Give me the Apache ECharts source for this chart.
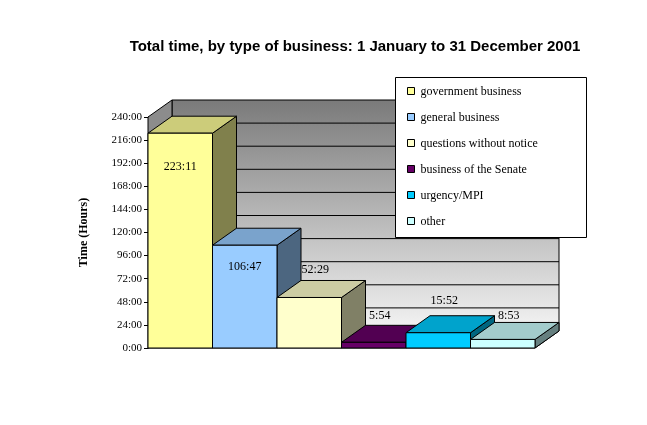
<!DOCTYPE html>
<html><head><meta charset="utf-8">
<script src="https://cdn.jsdelivr.net/npm/echarts@6/dist/echarts.min.js"></script>
<style>html,body{margin:0;padding:0;background:#fff}#c{width:647px;height:425px}</style>
</head><body><div id="c"></div>
<script>
const categories = ['government business','general business','questions without notice','business of the Senate','urgency/MPI','other'];
const valueLabels = ['223:11','106:47','52:29','5:54','15:52','8:53'];
const values = [223.18, 106.78, 52.48, 5.9, 15.87, 8.88];
const tickLabels = ['0:00','24:00','48:00','72:00','96:00','120:00','144:00','168:00','192:00','216:00','240:00'];
const frontColors = ['#FFFF99','#99CCFF','#FFFFCC','#660066','#00CCFF','#CCFFFF'];
const topColors = ['#CCCC7A','#7AA3CC','#CCCCA3','#520052','#00A3CC','#A3CCCC'];
const sideColors = ['#80804C','#4C6680','#808066','#330033','#006680','#668080'];
const labelDy = [34, 22, -28, -26, -32, -24];
const DX = 24, DY = -17;
const chart = echarts.init(document.getElementById('c'));
function band(api, i){ const c = api.coord([i,0]); const w = api.size([1,0])[0]; return [c[0]-w/2, c[0]+w/2]; }
const wall = {
  type:'custom', data:[[0]], silent:true, z:1,
  renderItem(params, api){
    const x0 = band(api,0)[0], x1 = band(api,categories.length-1)[1];
    const y0 = api.coord([0,0])[1], yt = api.coord([0,240])[1];
    const ch = [];
    ch.push({type:'polygon',shape:{points:[[x0+DX,yt+DY],[x1+DX,yt+DY],[x1+DX,y0+DY],[x0+DX,y0+DY]]},
      style:{fill:new echarts.graphic.LinearGradient(0,0,0,1,[{offset:0,color:'#7a7a7a'},{offset:1,color:'#f4f4f4'}]),stroke:'#000',lineWidth:1}});
    ch.push({type:'polygon',shape:{points:[[x0,y0],[x0+DX,y0+DY],[x0+DX,yt+DY],[x0,yt]]},style:{fill:'#8c8c8c',stroke:'#000',lineWidth:1}});
    ch.push({type:'polygon',shape:{points:[[x0,y0],[x1,y0],[x1+DX,y0+DY],[x0+DX,y0+DY]]},style:{fill:'#8c8c8c',stroke:'#000',lineWidth:1}});
    for(let v=24; v<240; v+=24){
      const y = api.coord([0,v])[1];
      ch.push({type:'polyline',shape:{points:[[x0,y],[x0+DX,y+DY],[x1+DX,y+DY]]},style:{stroke:'#000',lineWidth:1,fill:null}});
    }
    return {type:'group',children:ch};
  }
};
const bars = {
  type:'custom', z:2, data: values.map((v,i)=>[i,v]),
  renderItem(params, api){
    const i = api.value(0), v = api.value(1);
    const [a,b] = band(api,i);
    const y0 = api.coord([i,0])[1], y = api.coord([i,v])[1];
    return {type:'group',children:[
      {type:'polygon',shape:{points:[[b,y],[b+DX,y+DY],[b+DX,y0+DY],[b,y0]]},style:{fill:sideColors[i],stroke:'#000',lineWidth:1}},
      {type:'polygon',shape:{points:[[a,y],[a+DX,y+DY],[b+DX,y+DY],[b,y]]},style:{fill:topColors[i],stroke:'#000',lineWidth:1}},
      {type:'rect',shape:{x:a,y:y,width:b-a,height:y0-y},style:{fill:frontColors[i],stroke:'#000',lineWidth:1}},
      {type:'text',style:{text:valueLabels[i],x:(a+b)/2+(i>1?6:0),y:y+labelDy[i],align:'center',verticalAlign:'middle',font:'12px "Liberation Serif"',fill:'#000'}}
    ]};
  }
};
const legendChildren = [{type:'rect',z:100,shape:{x:0,y:0,width:191,height:160},style:{fill:'#fff',stroke:'#000',lineWidth:1}}];
categories.forEach((n,i)=>{
  legendChildren.push({type:'rect',z:101,shape:{x:12,y:10+i*26,width:7,height:7},style:{fill:frontColors[i],stroke:'#000',lineWidth:1}});
  legendChildren.push({type:'text',z:101,style:{text:n,x:25,y:14+i*26,verticalAlign:'middle',font:'12px "Liberation Serif"',fill:'#000'}});
});
chart.setOption({
  animation:false,
  title:{text:'Total time, by type of business: 1 January to 31 December 2001',left:350,top:34,textAlign:'center',
    textStyle:{fontFamily:'Liberation Sans',fontSize:15,fontWeight:'bold',color:'#000'}},
  grid:{left:148,right:112,top:117,bottom:77},
  xAxis:{type:'category',data:categories,axisLine:{show:false},axisTick:{show:false},axisLabel:{show:false}},
  yAxis:{type:'value',min:0,max:240,interval:24,name:'Time (Hours)',nameLocation:'middle',nameGap:58,nameRotate:90,
    nameTextStyle:{fontFamily:'Liberation Serif',fontSize:12,fontWeight:'bold',color:'#000'},
    axisLine:{show:true,lineStyle:{color:'#000'}},axisTick:{show:true,length:4,lineStyle:{color:'#000'}},splitLine:{show:false},
    axisLabel:{formatter:(v)=>tickLabels[Math.round(v/24)],fontFamily:'Liberation Serif',fontSize:11,color:'#000',margin:6}},
  graphic:[{type:'group',left:395,top:77,z:100,zlevel:1,children:legendChildren}],
  series:[wall,bars]
});
</script></body></html>
